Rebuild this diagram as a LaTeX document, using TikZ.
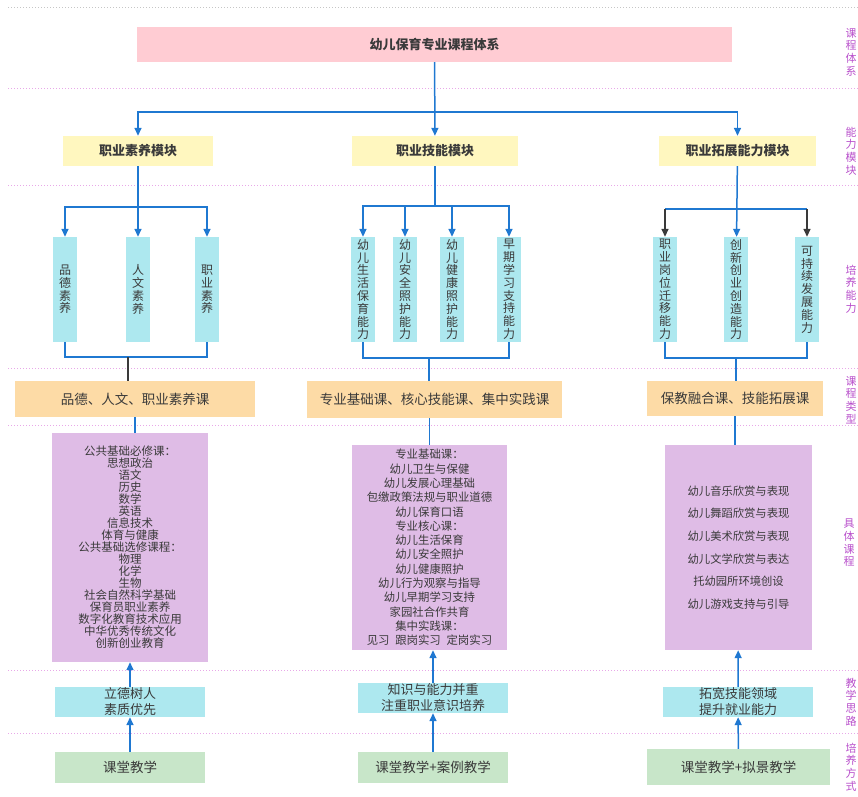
\documentclass[tikz,border=0pt]{standalone}
\usepackage{fontspec}
\setmainfont{Noto Sans CJK SC}
\usetikzlibrary{arrows.meta}
\definecolor{linkblue}{HTML}{1F78D1}
\definecolor{pinkbox}{HTML}{FFCCD3}
\definecolor{yellowbox}{HTML}{FFF7BF}
\definecolor{cyanbox}{HTML}{ADE8EF}
\definecolor{peachbox}{HTML}{FDDBA6}
\definecolor{purplebox}{HTML}{DFBCE6}
\definecolor{greenbox}{HTML}{C8E6C9}
\definecolor{bandpink}{HTML}{E8A8E8}
\definecolor{sidepurple}{HTML}{B84FCB}
\definecolor{inkgray}{HTML}{3A3A3A}

\begin{document}
\begin{tikzpicture}[x=1pt,y=-1pt,
  box/.style={rectangle, inner sep=0pt, text=inkgray, align=center},
  head/.style={box, fill=pinkbox, minimum width=595pt, minimum height=35pt, font=\fontsize{13}{15}\selectfont\bfseries},
  module/.style={box, fill=yellowbox, minimum height=30pt, font=\fontsize{13}{15}\selectfont\bfseries},
  ability/.style={box, fill=cyanbox, minimum width=24pt, minimum height=105pt, font=\fontsize{12}{12.8}\selectfont},
  kind/.style={box, fill=peachbox, minimum height=36pt, font=\fontsize{13.5}{15}\selectfont},
  course/.style={box, fill=purplebox, minimum height=205pt},
  idea/.style={box, fill=cyanbox, minimum width=150pt, minimum height=30pt, font=\fontsize{13}{16}\selectfont},
  mode/.style={box, fill=greenbox, minimum width=150pt, minimum height=31pt, font=\fontsize{13.5}{15}\selectfont},
  side/.style={align=center, inner sep=0pt, text=sidepurple, font=\fontsize{11}{12.7}\selectfont},
  band/.style={bandpink, line width=0.8pt, dash pattern=on 1pt off 2pt},
  link/.style={linkblue, line width=1.5pt},
  darklink/.style={inkgray, line width=1.5pt},
  arrow/.style={link, -{Triangle[length=8pt,width=7pt]}},
  darkarrow/.style={darklink, -{Triangle[length=8pt,width=7pt]}}
]
\useasboundingbox (0,0) rectangle (858,796);
\draw[band, gray!45] (8,7) -- (858,7);
\foreach \y in {88,185,368,425,670,733}
  \draw[band] (8,\y) -- (858,\y);

\node[head] (sys) at (434.5,44.5) {幼儿保育专业课程体系};

\node[module, minimum width=150pt] (m1) at (138,151) {职业素养模块};
\node[module, minimum width=166pt] (m2) at (435,151) {职业技能模块};
\node[module, minimum width=157pt] (m3) at (737.5,151) {职业拓展能力模块};

\node[ability] (a1) at (65,289.5) {品\\德\\素\\养};
\node[ability] (a2) at (138,289.5) {人\\文\\素\\养};
\node[ability] (a3) at (207,289.5) {职\\业\\素\\养};
\node[ability] (b1) at (363,289.5) {幼\\儿\\生\\活\\保\\育\\能\\力};
\node[ability] (b2) at (405,289.5) {幼\\儿\\安\\全\\照\\护\\能\\力};
\node[ability] (b3) at (452,289.5) {幼\\儿\\健\\康\\照\\护\\能\\力};
\node[ability] (b4) at (509,289.5) {早\\期\\学\\习\\支\\持\\能\\力};
\node[ability] (c1) at (665,289.5) {职\\业\\岗\\位\\迁\\移\\能\\力};
\node[ability] (c2) at (736,289.5) {创\\新\\创\\业\\创\\造\\能\\力};
\node[ability] (c3) at (807,289.5) {可\\持\\续\\发\\展\\能\\力};

\node[kind, minimum width=240pt] (k1) at (135,399) {品德、人文、职业素养课};
\node[kind, minimum width=255pt, minimum height=37pt] (k2) at (434.5,399.5) {专业基础课、核心技能课、集中实践课};
\node[kind, minimum width=176pt, minimum height=35pt] (k3) at (735,398.5) {保教融合课、技能拓展课};

\node[course, minimum width=156pt, minimum height=229pt, font=\fontsize{11.5}{12}\selectfont] (p1) at (130,547.5)
  {公共基础必修课：\\思想政治\\语文\\历史\\数学\\英语\\信息技术\\体育与健康\\公共基础选修课程：\\物理\\化学\\生物\\社会自然科学基础\\保育员职业素养\\数字化教育技术应用\\中华优秀传统文化\\创新创业教育};
\node[course, minimum width=155pt, font=\fontsize{11.4}{14.3}\selectfont] (p2) at (429.5,547.5)
  {专业基础课：\\幼儿卫生与保健\\幼儿发展心理基础\\包缴政策法规与职业道德\\幼儿保育口语\\专业核心课：\\幼儿生活保育\\幼儿安全照护\\幼儿健康照护\\幼儿行为观察与指导\\幼儿早期学习支持\\家园社合作共育\\集中实践课：\\见习\enspace 跟岗实习\enspace 定岗实习};
\node[course, minimum width=147pt, font=\fontsize{11.3}{22.6}\selectfont] (p3) at (738.5,547.5)
  {幼儿音乐欣赏与表现\\幼儿舞蹈欣赏与表现\\幼儿美术欣赏与表现\\幼儿文学欣赏与表达\\托幼园所环境创设\\幼儿游戏支持与引导};

\node[idea] (t1) at (130,702) {立德树人\\素质优先};
\node[idea] (t2) at (433,698) {知识与能力并重\\注重职业意识培养};
\node[idea] (t3) at (738,702) {拓宽技能领域\\提升就业能力};

\node[mode] (g1) at (130,767.5) {课堂教学};
\node[mode] (g2) at (433,767.5) {课堂教学+案例教学};
\node[mode, minimum width=183pt, minimum height=36pt] (g3) at (738.5,767) {课堂教学+拟景教学};

\node[side] (s1) at (851,52) {课\\程\\体\\系};
\node[side] (s2) at (851,151) {能\\力\\模\\块};
\node[side] (s3) at (851,289) {培\\养\\能\\力};
\node[side] (s4) at (851,400) {课\\程\\类\\型};
\node[side] (s5) at (849,543) {具\\体\\课\\程};
\node[side] (s6) at (851,702) {教\\学\\思\\路};
\node[side] (s7) at (851,767) {培\\养\\方\\式};

\coordinate (top) at (434.5,112);
\draw[arrow] (sys) -- (m2);
\draw[arrow] (top) -| (m1);
\draw[arrow] (top) -| (m3);

\coordinate (lb) at (138,207);
\draw[arrow] (m1) -- (a2);
\draw[arrow] (lb) -| (a1);
\draw[arrow] (lb) -| (a3);

\coordinate (mb) at (435,206);
\draw[link] (m2) -- (mb);
\foreach \n in {b1,b2,b3,b4}
  \draw[arrow] (mb) -| (\n);

\coordinate (rl) at (665,209);
\coordinate (rr) at (807,209);
\draw[arrow] (m3) -- (c2);
\draw[link] (rl) -- (rr);
\draw[darkarrow] (rl) -- (c1);
\draw[darkarrow] (rr) -- (c3);

\coordinate (lj) at (128,357);
\draw[link] (a1.south) |- (lj) -| (a3.south);
\draw[darklink] (lj) -- (lj |- k1.north);
\coordinate (mj) at (429,358);
\draw[link] (b1.south) |- (mj) -| (b4.south);
\draw[link] (mj) -- (mj |- k2.north);
\coordinate (rj) at (736,358);
\draw[link] (c1.south) |- (rj) -| (c3.south);
\draw[link] (rj) -- (rj |- k3.north);

\draw[link] (k1.south) -- (k1.south |- p1.north);
\draw[link] (p2.north) -- (p2.north |- k2.south);
\draw[link] (k3.south) -- (k3.south |- p3.north);

\draw[arrow] (g1) -- (t1);
\draw[arrow] (t1) -- (p1);
\draw[arrow] (g2) -- (t2);
\draw[arrow] (t2.north) -- (t2.north |- p2.south);
\draw[arrow] (g3) -- (t3);
\draw[arrow] (t3) -- (p3);
\end{tikzpicture}
\end{document}
